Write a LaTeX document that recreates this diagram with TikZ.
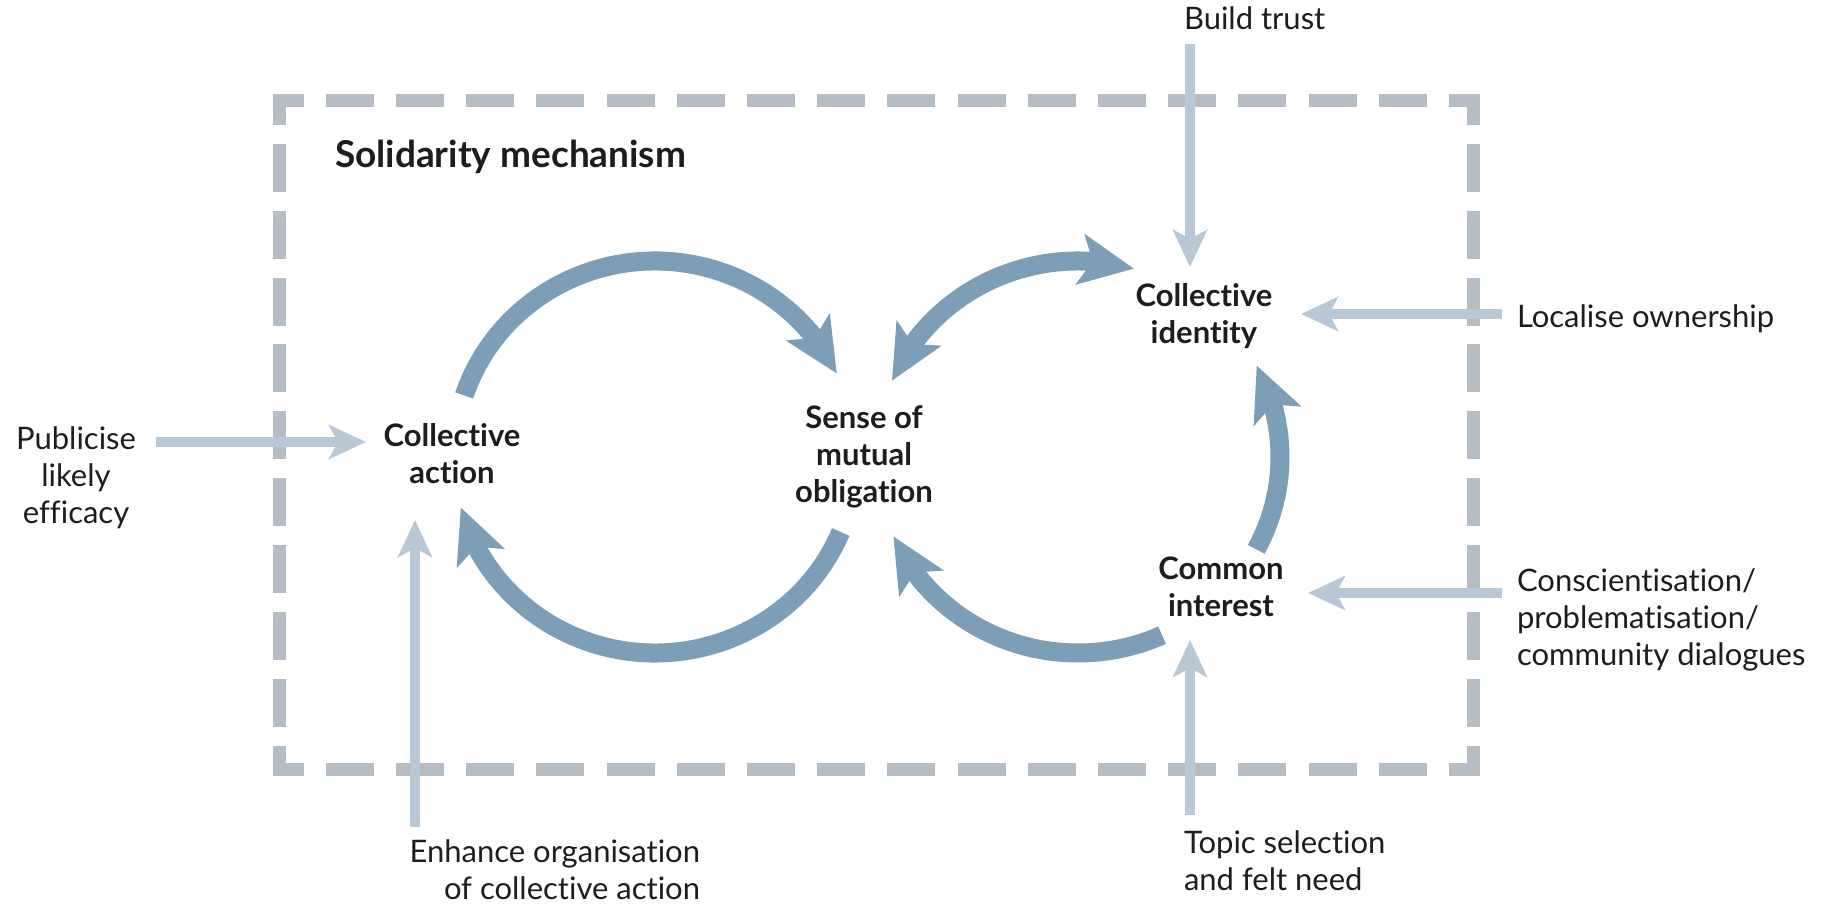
\documentclass[tikz,border=0pt]{standalone}
\usepackage{fontspec}
\setmainfont{Lato}[Ligatures=NoCommon]
\usetikzlibrary{arrows.meta,bending}
\definecolor{darkarc}{RGB}{124,158,183}
\definecolor{lightarr}{RGB}{185,200,214}
\definecolor{dashgray}{RGB}{183,189,197}
\definecolor{txt}{RGB}{30,28,32}
\begin{document}
\begin{tikzpicture}[x=1pt,y=1pt,
  every node/.style={inner sep=0pt, outer sep=0pt, text=txt},
  reg/.style={font=\fontsize{31}{37}\selectfont},
  lbl/.style={font=\fontsize{31}{37}\selectfont\bfseries},
  ttl/.style={font=\fontsize{37}{42}\selectfont\bfseries},
  boxside/.style={draw=dashgray, line width=13pt, line cap=butt},
  hdash/.style={boxside, dash pattern=on 48pt off 22.2pt, dash phase=17.5pt},
  vdash/.style={boxside, dash pattern=on 48pt off 18.85pt, dash phase=17.5pt},
  lightarrow/.style={draw=lightarr, line width=10pt,
    -{Stealth[length=37pt, width=34pt, inset=9pt]}},
  darkarrow/.style={draw=darkarc, line width=19pt,
    -{Stealth[length=54pt, width=50pt, inset=12pt]}},
  darkdouble/.style={draw=darkarc, line width=19pt,
    {Stealth[length=54pt, width=50pt, inset=12pt]}-{Stealth[length=54pt, width=50pt, inset=12pt]}}
]
\useasboundingbox (0,0) rectangle (1826,903);

% dashed frame
\coordinate (bl) at (279.5,133.5);
\coordinate (tr) at (1473,802);
\draw[hdash] (273,802) -- (1479.5,802);
\draw[hdash] (273,133.5) -- (1479.5,133.5);
\draw[vdash] (279.5,127) -- (279.5,808.5);
\draw[vdash] (1473,127) -- (1473,808.5);

% labels
\node[ttl, anchor=base west] (title) at (335,735) {Solidarity mechanism};
\node[lbl, anchor=base] (ca) at (452,456) {\begin{tabular}[t]{@{}c@{}}Collective\\action\end{tabular}};
\node[lbl, anchor=base] (smo) at (864,474) {\begin{tabular}[t]{@{}c@{}}Sense of\\mutual\\obligation\end{tabular}};
\node[lbl, anchor=base] (ci) at (1204,596) {\begin{tabular}[t]{@{}c@{}}Collective\\identity\end{tabular}};
\node[lbl, anchor=base] (cm) at (1221,323) {\begin{tabular}[t]{@{}c@{}}Common\\interest\end{tabular}};

\node[reg, anchor=base] (pub) at (76,453) {\begin{tabular}[t]{@{}c@{}}Publicise\\likely\\efficacy\end{tabular}};
\node[reg, anchor=base west] (bt) at (1184,873) {Build trust};
\node[reg, anchor=base west] (lo) at (1517,575) {Localise ownership};
\node[reg, anchor=base west] (co) at (1517,311) {\begin{tabular}[t]{@{}l@{}}Conscientisation/\\problematisation/\\community dialogues\end{tabular}};
\node[reg, anchor=base east] (en) at (700,41) {\begin{tabular}[t]{@{}r@{}}Enhance organisation\\of collective action\end{tabular}};
\node[reg, anchor=base west] (ts) at (1184,50) {\begin{tabular}[t]{@{}l@{}}Topic selection\\and felt need\end{tabular}};

% light input arrows
\coordinate (pubS) at (156,461);   \coordinate (pubE) at (366,461);
\coordinate (enS) at (415,76);     \coordinate (enE) at (415,383);
\coordinate (btS) at (1190,859);   \coordinate (btE) at (1190,636);
\coordinate (loS) at (1502,589);   \coordinate (loE) at (1301,589);
\coordinate (coS) at (1502,310);   \coordinate (coE) at (1308,310);
\coordinate (tsS) at (1190,88);    \coordinate (tsE) at (1190,263);
\draw[lightarrow] (pubS) -- (pubE);
\draw[lightarrow] (enS) -- (enE);
\draw[lightarrow] (btS) -- (btE);
\draw[lightarrow] (loS) -- (loE);
\draw[lightarrow] (coS) -- (coE);
\draw[lightarrow] (tsS) -- (tsE);

% loops
\coordinate (cl) at (655,446);
\coordinate (cr) at (1078,446);
\draw[darkarrow] ([shift={(161.7:201 and 196)}]cl) arc[start angle=161.7, end angle=25.2, x radius=201, y radius=196];
\draw[darkarrow] ([shift={(-22.5:201 and 196)}]cl) arc[start angle=-22.5, end angle=-165.1, x radius=201, y radius=196];
\draw[darkdouble] ([shift={(157.1:202 and 196)}]cr) arc[start angle=157.1, end angle=73.9, x radius=202, y radius=196];
\draw[darkarrow] ([shift={(-28.1:202 and 196)}]cr) arc[start angle=-28.1, end angle=27.8, x radius=202, y radius=196];
\draw[darkarrow] ([shift={(-65.4:202 and 196)}]cr) arc[start angle=-65.4, end angle=-156.1, x radius=202, y radius=196];
\end{tikzpicture}
\end{document}
